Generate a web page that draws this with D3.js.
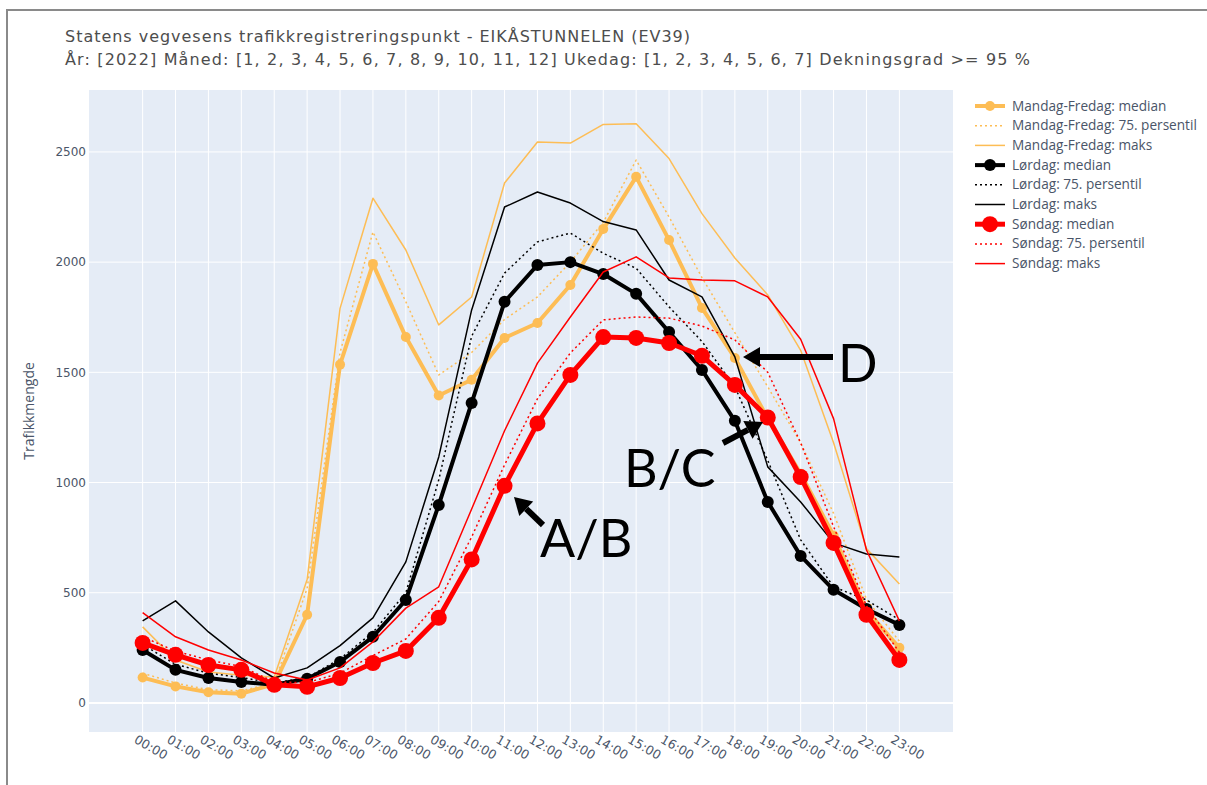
<!DOCTYPE html>
<html>
<head>
<meta charset="utf-8">
<script src="https://cdn.jsdelivr.net/npm/d3@7"></script>
<style>
  html, body { margin: 0; padding: 0; background: #fff; }
  svg { display: block; }
</style>
</head>
<body>
<div id="chart"></div>
<script>
// ---- data ----
const hours = ["00:00","01:00","02:00","03:00","04:00","05:00","06:00","07:00","08:00","09:00","10:00","11:00",
               "12:00","13:00","14:00","15:00","16:00","17:00","18:00","19:00","20:00","21:00","22:00","23:00"];

const mfMedian = [115, 75, 48, 42, 85, 400, 1535, 1992, 1660, 1395, 1466, 1656, 1724, 1896, 2150, 2387, 2100, 1792, 1565, 1290, 1040, 760, 420, 250];
const mf75     = [135, 90, 60, 55, 90, 520, 1590, 2137, 1820, 1488, 1590, 1740, 1842, 2000, 2180, 2463, 2205, 1930, 1680, 1434, 1180, 860, 470, 280];
const mfMaks   = [345, 195, 140, 125, 118, 560, 1790, 2290, 2055, 1715, 1842, 2359, 2545, 2540, 2625, 2628, 2470, 2220, 2019, 1851, 1600, 1180, 700, 540];

const lorMedian = [240, 150, 113, 95, 82, 110, 186, 300, 467, 898, 1361, 1820, 1987, 2000, 1946, 1856, 1683, 1511, 1280, 912, 667, 513, 426, 354];
const lor75     = [265, 175, 135, 115, 90, 115, 200, 320, 500, 1012, 1664, 1950, 2092, 2132, 2040, 1972, 1797, 1640, 1434, 1100, 740, 527, 467, 377];
const lorMaks   = [372, 463, 322, 204, 113, 159, 260, 386, 640, 1116, 1783, 2250, 2318, 2268, 2184, 2146, 1919, 1842, 1570, 1071, 912, 726, 676, 662];

const sonMedian = [272, 218, 172, 150, 82, 73, 113, 181, 236, 386, 651, 985, 1268, 1488, 1660, 1656, 1633, 1575, 1443, 1295, 1025, 726, 400, 195];
const son75     = [300, 235, 195, 165, 95, 92, 135, 215, 290, 460, 753, 1080, 1380, 1588, 1738, 1751, 1746, 1710, 1647, 1500, 1180, 800, 440, 230];
const sonMaks   = [410, 300, 240, 195, 136, 104, 159, 277, 430, 527, 880, 1235, 1542, 1751, 1955, 2024, 1928, 1919, 1915, 1842, 1650, 1290, 694, 372];

const yTicks = [0, 500, 1000, 1500, 2000, 2500];

const titleLines = [
  "Statens vegvesens trafikkregistreringspunkt - EIKÅSTUNNELEN (EV39)",
  "År: [2022] Måned: [1, 2, 3, 4, 5, 6, 7, 8, 9, 10, 11, 12] Ukedag: [1, 2, 3, 4, 5, 6, 7] Dekningsgrad >= 95 %"
];
const titleWidths = [625, 965];

// ---- styles per trace ----
const ORANGE = "#fdbd55", BLACK = "#000000", RED = "#ff0000";
const traces = [
  { name: "Mandag-Fredag: median",         values: mfMedian,  color: ORANGE, width: 4,   dash: null,  r: 5 },
  { name: "Mandag-Fredag: 75. persentil",  values: mf75,      color: ORANGE, width: 1.5, dash: "2,3", r: 0 },
  { name: "Mandag-Fredag: maks",           values: mfMaks,    color: ORANGE, width: 1.5, dash: null,  r: 0 },
  { name: "Lørdag: median",                values: lorMedian, color: BLACK,  width: 4,   dash: null,  r: 6 },
  { name: "Lørdag: 75. persentil",         values: lor75,     color: BLACK,  width: 1.5, dash: "2,3", r: 0 },
  { name: "Lørdag: maks",                  values: lorMaks,   color: BLACK,  width: 1.5, dash: null,  r: 0 },
  { name: "Søndag: median",                values: sonMedian, color: RED,    width: 5,   dash: null,  r: 8 },
  { name: "Søndag: 75. persentil",         values: son75,     color: RED,    width: 1.5, dash: "2,3", r: 0 },
  { name: "Søndag: maks",                  values: sonMaks,   color: RED,    width: 1.5, dash: null,  r: 0 }
];

const W = 1207, H = 785;
const plot = { left: 89, right: 953, top: 90, bottom: 732 };
const FONT = "'Open Sans', 'Liberation Sans', sans-serif";
const TXT = "#4a5568";

const svg = d3.select("#chart").append("svg")
  .attr("width", W).attr("height", H)
  .attr("viewBox", [0, 0, W, H]);

// shrink/grow a text's font so it spans the given width
function fitWidth(sel, target) {
  const node = sel.node();
  const fs = parseFloat(sel.attr("font-size"));
  const w = node.getComputedTextLength();
  if (w > 0) sel.attr("font-size", (fs * target / w).toFixed(2));
}

// frame of the screenshot
svg.append("path")
  .attr("d", `M7,${H} V10 H${W}`)
  .attr("fill", "none").attr("stroke", "#8a8a8a").attr("stroke-width", 2);

// title: Verdana-like face, spread to the reference line lengths
svg.append("g").selectAll("text")
  .data(titleLines)
  .join("text")
  .attr("x", 65).attr("y", (d, i) => 42 + i * 23)
  .attr("font-family", "'DejaVu Sans', Verdana, sans-serif").attr("font-size", 16)
  .attr("fill", "#4d4d4d")
  .attr("textLength", (d, i) => titleWidths[i])
  .attr("lengthAdjust", "spacing")
  .text(d => d);

// --- scales ---
const x = d3.scalePoint().domain(hours).range([plot.left, plot.right]).padding(1.63);
const y = d3.scaleLinear().domain([-132, 2781]).range([plot.bottom, plot.top]);

// plot background
svg.append("rect")
  .attr("x", plot.left).attr("y", plot.top)
  .attr("width", plot.right - plot.left).attr("height", plot.bottom - plot.top)
  .attr("fill", "#e5ecf6");

// gridlines
const grid = svg.append("g").attr("stroke", "#fff");
grid.selectAll("line.v").data(hours).join("line")
  .attr("class", "v")
  .attr("x1", d => x(d)).attr("x2", d => x(d))
  .attr("y1", plot.top).attr("y2", plot.bottom)
  .attr("stroke-width", 1);
grid.selectAll("line.h").data(yTicks).join("line")
  .attr("class", "h")
  .attr("x1", plot.left).attr("x2", plot.right)
  .attr("y1", d => y(d)).attr("y2", d => y(d))
  .attr("stroke-width", d => d === 0 ? 2 : 1);

// y axis
const yAxis = svg.append("g")
  .attr("transform", `translate(${plot.left},0)`)
  .call(d3.axisLeft(y).tickValues(yTicks).tickFormat(d3.format("d")).tickSize(0).tickPadding(3));
yAxis.select(".domain").remove();
yAxis.selectAll("text").attr("font-family", "'DejaVu Sans', sans-serif").attr("font-size", 12).attr("fill", TXT);

svg.append("text")
  .attr("transform", `translate(34,${(plot.top + plot.bottom) / 2}) rotate(-90)`)
  .attr("text-anchor", "middle")
  .attr("font-family", FONT).attr("font-size", 14).attr("fill", TXT)
  .text("Trafikkmengde");

// x axis, rotated labels
const xAxis = svg.append("g")
  .attr("transform", `translate(0,${plot.bottom})`)
  .call(d3.axisBottom(x).tickSize(0));
xAxis.select(".domain").remove();
xAxis.selectAll("text")
  .attr("font-family", "'DejaVu Sans', sans-serif").attr("font-size", 12.5).attr("fill", TXT)
  .attr("text-anchor", "start")
  .attr("x", 0).attr("y", 0).attr("dy", 0)
  .attr("transform", "translate(-10,10) rotate(30)");

// --- series ---
const line = d3.line().x((d, i) => x(hours[i])).y(d => y(d));
const series = svg.append("g");
traces.forEach(t => {
  const g = series.append("g");
  g.append("path")
    .datum(t.values)
    .attr("d", line)
    .attr("fill", "none")
    .attr("stroke", t.color)
    .attr("stroke-width", t.width)
    .attr("stroke-dasharray", t.dash)
    .attr("stroke-linejoin", "round");
  if (t.r > 0) {
    g.selectAll("circle").data(t.values).join("circle")
      .attr("cx", (d, i) => x(hours[i]))
      .attr("cy", d => y(d))
      .attr("r", t.r)
      .attr("fill", t.color);
  }
});

// --- legend ---
const legend = svg.append("g").attr("transform", "translate(975,106)");
const item = legend.selectAll("g").data(traces).join("g")
  .attr("transform", (d, i) => `translate(0,${i * 19.7})`);
item.append("line")
  .attr("x1", 0).attr("x2", 30).attr("y1", 0).attr("y2", 0)
  .attr("stroke", d => d.color)
  .attr("stroke-width", d => d.width)
  .attr("stroke-dasharray", d => d.dash);
item.filter(d => d.r > 0).append("circle")
  .attr("cx", 15).attr("cy", 0).attr("r", d => d.r)
  .attr("fill", d => d.color);
const legText = item.append("text")
  .attr("x", 37).attr("y", 4.5)
  .attr("font-family", FONT).attr("font-size", 12).attr("fill", TXT)
  .text(d => d.name);
fitWidth(d3.select(legText.nodes()[1]), 185);
legText.attr("font-size", d3.select(legText.nodes()[1]).attr("font-size"));

// --- hand-drawn annotations (arrows + letters) ---
const notes = [
  { label: "A/B", tx: 540, ty: 557, from: [543, 525], to: [514, 497] },
  { label: "B/C", tx: 624, ty: 487, from: [723, 443], to: [763, 422] },
  { label: "D",   tx: 838, ty: 382, from: [833, 357], to: [743, 357] }
];
const ann = svg.append("g");
notes.forEach(n => {
  const [x1, y1] = n.from, [x2, y2] = n.to;
  const ang = Math.atan2(y2 - y1, x2 - x1);
  const hl = 17, hw = 10;
  const bx = x2 - hl * Math.cos(ang), by = y2 - hl * Math.sin(ang);
  ann.append("line")
    .attr("x1", x1).attr("y1", y1).attr("x2", bx).attr("y2", by)
    .attr("stroke", "#000").attr("stroke-width", 6);
  ann.append("path")
    .attr("d", `M${x2},${y2} L${bx + hw * Math.sin(ang)},${by - hw * Math.cos(ang)} L${bx - hw * Math.sin(ang)},${by + hw * Math.cos(ang)} Z`)
    .attr("fill", "#000");
  ann.append("text")
    .attr("x", n.tx).attr("y", n.ty)
    .attr("font-family", "Lato, 'Open Sans', sans-serif")
    .attr("font-size", 52)
    .attr("fill", "#000")
    .text(n.label);
});
</script>
</body>
</html>
